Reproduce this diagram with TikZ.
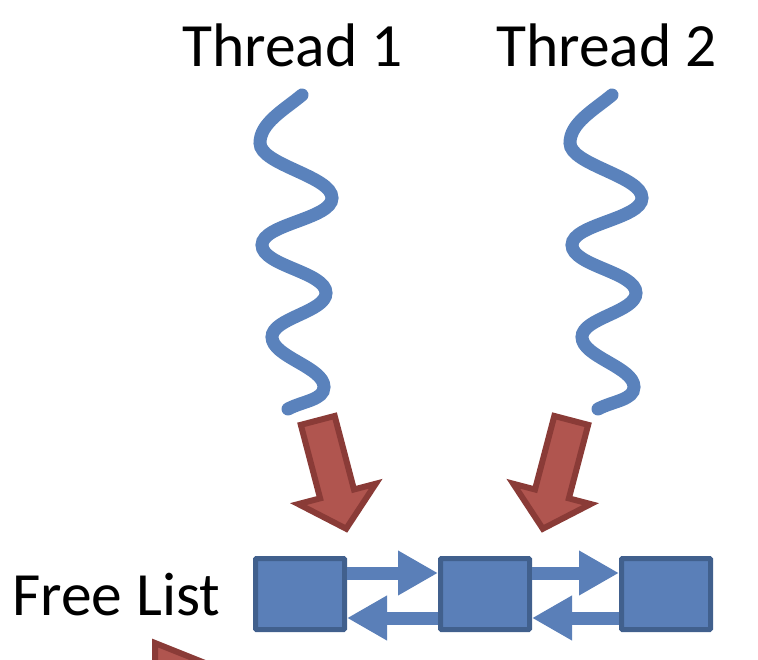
\documentclass[tikz,border=0pt]{standalone}
\usepackage{fontspec}
\setmainfont{Carlito}
\usetikzlibrary{arrows.meta}
\definecolor{waveblue}{HTML}{5A82BC}
\definecolor{boxfill}{HTML}{5A7FB8}
\definecolor{boxline}{HTML}{41608D}
\definecolor{redfill}{HTML}{B0554F}
\definecolor{redline}{HTML}{8A3B37}
\tikzset{
  wavestyle/.style={draw=waveblue, line width=13pt, line cap=round},
  blockarrow/.style={fill=redfill, draw=redline, line width=6pt, line join=miter},
  cellbox/.style={draw=boxline, fill=boxfill, line width=5pt, minimum width=89pt, minimum height=71pt, inner sep=0pt, rounded corners=1pt},
  linkarrow/.style={draw=boxfill, line width=13pt, -{Triangle[length=40pt,width=42pt]}},
  txt/.style={font=\fontsize{61.5}{74}\selectfont, inner sep=0pt, anchor=base west},
  threadwave/.pic={
    \draw[wavestyle] (302,95) .. controls (284,110) and (260,123) .. (260,143)
      .. controls (260,165) and (332,176) .. (332,198)
      .. controls (332,219) and (262,224) .. (262,245)
      .. controls (262,266) and (326,272) .. (326,293)
      .. controls (326,312) and (272,318) .. (272,337)
      .. controls (272,357) and (324,367) .. (324,387)
      .. controls (324,400) and (303,401) .. (288,409);
  }
}
\begin{document}
\begin{tikzpicture}[x=1pt,y=-1pt]
\useasboundingbox (0,0) rectangle (758,660);
\clip (0,0) rectangle (758,660);

% thread labels
\node[txt] (t1) at (182,67) {Thread 1};
\node[txt] (t2) at (496,67) {Thread 2};

% wavy threads
\pic at (0,0) {threadwave};
\pic at (310,0) {threadwave};

% red block arrows
\begin{scope}[shift={(317,417.5)}, rotate=-75.3]
  \draw[blockarrow] (3,17.5) -- (79,17.5) -- (79,40) -- (115,0) -- (79,-40) -- (79,-17.5) -- (3,-17.5) -- cycle;
\end{scope}
\begin{scope}[shift={(572,417.5)}, rotate=-104.7]
  \draw[blockarrow] (3,17.5) -- (79,17.5) -- (79,40) -- (115,0) -- (79,-40) -- (79,-17.5) -- (3,-17.5) -- cycle;
\end{scope}

% partial arrow at the bottom left
\draw[blockarrow] (155,643) -- (235,675) -- (155,690) -- cycle;

% free list
\node[txt] (fl) at (12,615) {Free List};
\node[cellbox] (c1) at (300,594) {};
\node[cellbox] (c2) at (485,594) {};
\node[cellbox] (c3) at (666,594) {};

\draw[linkarrow] ([yshift=21pt]c1.east) -- ([yshift=21pt]c2.west);
\draw[linkarrow] ([yshift=21pt]c2.east) -- ([yshift=21pt]c3.west);
\draw[linkarrow] ([yshift=-24pt]c2.west) -- ([yshift=-24pt]c1.east);
\draw[linkarrow] ([yshift=-24pt]c3.west) -- ([yshift=-24pt]c2.east);
\end{tikzpicture}
\end{document}
